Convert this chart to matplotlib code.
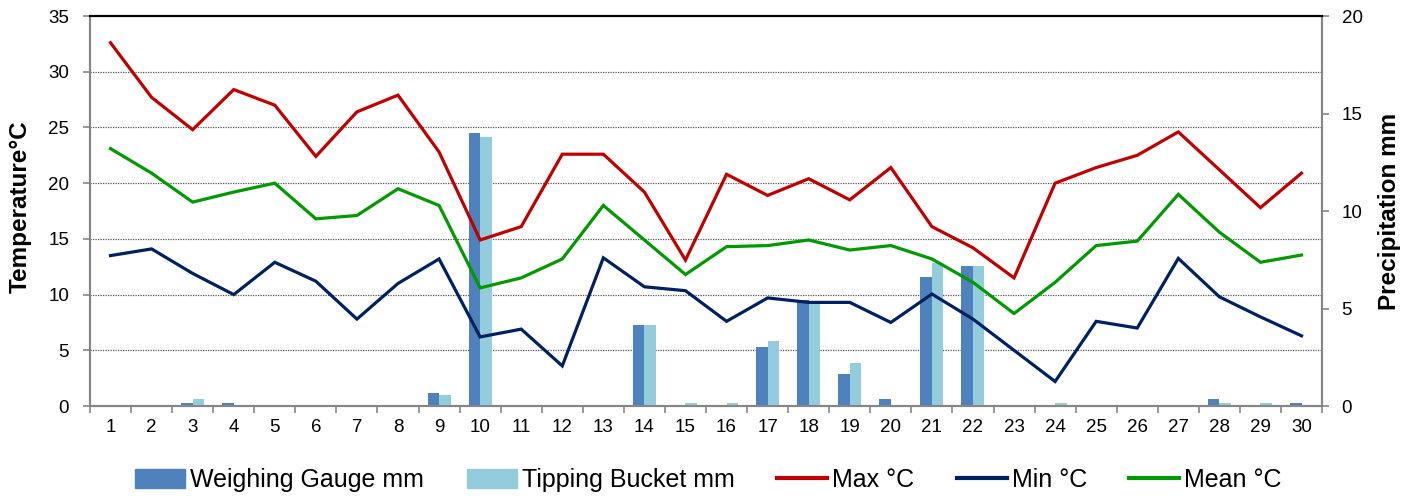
import matplotlib
matplotlib.use("Agg")
import matplotlib.pyplot as plt
from matplotlib.patches import Patch
from matplotlib.lines import Line2D

plt.rcParams['font.family'] = ['Liberation Sans', 'DejaVu Sans']

# ___DATA___ #
days = list(range(1, 31))

tMax = [32.6, 27.7, 24.8, 28.4, 27.0, 22.4, 26.4, 27.9, 22.8, 14.9,
        16.1, 22.6, 22.6, 19.2, 13.1, 20.8, 18.9, 20.4, 18.5, 21.4,
        16.1, 14.2, 11.5, 20.0, 21.4, 22.5, 24.6, 21.2, 17.8, 20.9]
tMin = [13.5, 14.1, 11.9, 10.0, 12.9, 11.2, 7.8, 11.0, 13.2, 6.2,
        6.9, 3.6, 13.3, 10.7, 10.35, 7.6, 9.7, 9.3, 9.3, 7.5,
        10.05, 7.8, 5.0, 2.2, 7.6, 7.0, 13.25, 9.8, 8.0, 6.3]
tMean = [23.1, 20.9, 18.3, 19.2, 20.0, 16.8, 17.1, 19.5, 18.0, 10.6,
         11.5, 13.2, 18.0, 14.9, 11.8, 14.3, 14.4, 14.9, 14.0, 14.4,
         13.2, 11.1, 8.3, 11.1, 14.4, 14.8, 19.0, 15.6, 12.9, 13.55]

weighing = [0, 0.05, 0.15, 0.15, 0.05, 0, 0.05, 0.05, 0.65, 14.0,
            0, 0, 0, 4.15, 0.05, 0, 3.05, 5.45, 1.65, 0.35,
            6.6, 7.2, 0, 0, 0, 0, 0, 0.35, 0, 0.15]
tipping = [0, 0, 0.35, 0, 0, 0, 0, 0, 0.55, 13.8,
           0, 0, 0, 4.15, 0.15, 0.15, 3.35, 5.35, 2.2, 0,
           7.35, 7.2, 0, 0.15, 0, 0, 0, 0.15, 0.15, 0]

tempTicks = [0, 5, 10, 15, 20, 25, 30, 35]
precipTicks = [0, 5, 10, 15, 20]

# ___COLOURS___ #
cWeigh = "#4F81BD"
cTip = "#93CDDD"
cMax = "#C00000"
cMin = "#002060"
cMean = "#009900"
gray = "#868686"

# ___THE PLOTTING___ #
fig = plt.figure(figsize=(14.17, 4.98), dpi=100)
ax1 = fig.add_axes([0.0635, 0.1847, 0.8695, 0.7831])
ax2 = ax1.twinx()

# bars go on the precipitation axis, which sits behind the temperature lines
ax1.set_zorder(ax2.get_zorder() + 1)
ax1.patch.set_visible(False)

barW = 0.28
ax2.bar([d - barW / 2 for d in days], weighing, width=barW, color=cWeigh, zorder=3)
ax2.bar([d + barW / 2 for d in days], tipping, width=barW, color=cTip, zorder=3)
ax2.set_ylim(0, 20)
ax2.set_yticks(precipTicks)

# temperature gridlines, drawn behind the bars
for t in tempTicks[1:-1]:
    ax2.axhline(t * 20 / 35, color="#555555", linestyle=(0, (1, 1)), linewidth=0.9, zorder=1)

ax1.plot(days, tMax, color=cMax, linewidth=2.3, solid_joinstyle="miter")
ax1.plot(days, tMin, color=cMin, linewidth=2.3, solid_joinstyle="miter")
ax1.plot(days, tMean, color=cMean, linewidth=2.3, solid_joinstyle="miter")
ax1.set_ylim(0, 35)
ax1.set_yticks(tempTicks)
ax1.set_xlim(0.5, 30.5)
ax1.set_xticks(days)
ax1.set_xticks([d + 0.5 for d in range(0, 31)], minor=True)

# spines and ticks
for ax in (ax1, ax2):
    for side in ("left", "right", "bottom"):
        ax.spines[side].set_color(gray)
        ax.spines[side].set_linewidth(1.5)
    ax.spines["top"].set_color("black")
    ax.spines["top"].set_linewidth(1.5)

ax1.tick_params(axis="x", which="major", length=0, pad=9, labelsize=13.5)
ax1.tick_params(axis="x", which="minor", length=5, width=1.2, color=gray)
ax1.tick_params(axis="y", length=5, width=1.2, color=gray, pad=10, labelsize=13.5)
ax2.tick_params(axis="y", length=5, width=1.2, color=gray, pad=9, labelsize=13.5)

ax1.set_ylabel("Temperature°C", fontsize=17.5, fontweight="bold")
ax1.yaxis.set_label_coords(-0.047, 0.51)
ax2.set_ylabel("Precipitation mm", fontsize=17.5, fontweight="bold", rotation=90)
ax2.yaxis.set_label_coords(1.045, 0.5)

handles = [Patch(color=cWeigh), Patch(color=cTip),
           Line2D([], [], color=cMax, linewidth=3),
           Line2D([], [], color=cMin, linewidth=3),
           Line2D([], [], color=cMean, linewidth=3)]
labels = ["Weighing Gauge mm", "Tipping Bucket mm", "Max °C", "Min °C", "Mean °C"]
fig.legend(handles, labels, loc="center", bbox_to_anchor=(0.5, 0.036), ncol=5,
           frameon=False, fontsize=18, handlelength=2.0, handleheight=0.8,
           handletextpad=0.2, columnspacing=1.7)

fig.savefig("out.png", dpi=100)
